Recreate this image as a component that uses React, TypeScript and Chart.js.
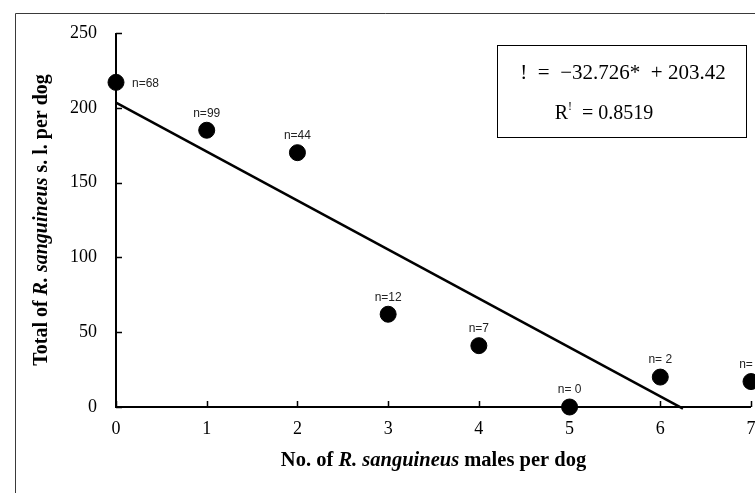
import React, { useEffect, useRef } from "react";
import { Chart, registerables } from "chart.js";

Chart.register(...registerables);

// ---- data ----
const malesPerDog: number[] = [0, 1, 2, 3, 4, 5, 6, 7];
const totalPerDog: number[] = [217, 185, 170, 62, 41, 0, 20, 17];
const sampleLabels: string[] = ["n=68", "n=99", "n=44", "n=12", "n=7", "n= 0", "n= 2", "n= 1"];
const yTicks: number[] = [0, 50, 100, 150, 200, 250];
const xTicks: number[] = [0, 1, 2, 3, 4, 5, 6, 7];
const slope = -32.726;
const intercept = 203.42;
const rSquared = 0.8519;
const fitXEnd = 6.25;
const equationText = "!  =  \u221232.726*  + 203.42";
const r2Text = "= " + rSquared.toFixed(4);
const xTitle = [
  { t: "No. of ", i: false },
  { t: "R. sanguineus", i: true },
  { t: " males per dog", i: false },
];
const yTitle = [
  { t: "Total of ", i: false },
  { t: "R. sanguineus", i: true },
  { t: " s. l. per dog", i: false },
];

const SERIF = "'Liberation Serif', 'Times New Roman', serif";
const SANS = "'Liberation Sans', Arial, sans-serif";

function drawSegments(ctx: CanvasRenderingContext2D, segs: { t: string; i: boolean }[], size: number) {
  const fonts = segs.map((s) => `${s.i ? "italic " : ""}bold ${size}px ${SERIF}`);
  let total = 0;
  const widths = segs.map((s, k) => {
    ctx.font = fonts[k];
    const w = ctx.measureText(s.t).width;
    total += w;
    return w;
  });
  let x = -total / 2;
  segs.forEach((s, k) => {
    ctx.font = fonts[k];
    ctx.fillText(s.t, x, 0);
    x += widths[k];
  });
}

const decorPlugin = {
  id: "decor",
  beforeDatasetsDraw(chart: any) {
    const { ctx, chartArea, scales } = chart;
    const xs = scales.x;
    const ys = scales.y;
    ctx.save();
    // outer frame
    ctx.strokeStyle = "#3a3a3a";
    ctx.lineWidth = 1;
    ctx.beginPath();
    ctx.moveTo(15.5, 600);
    ctx.lineTo(15.5, 13.5);
    ctx.lineTo(900, 13.5);
    ctx.stroke();
    // axes
    ctx.strokeStyle = "#000";
    ctx.lineWidth = 2;
    ctx.beginPath();
    ctx.moveTo(chartArea.left, chartArea.top);
    ctx.lineTo(chartArea.left, chartArea.bottom);
    ctx.lineTo(chartArea.right, chartArea.bottom);
    ctx.stroke();
    ctx.lineWidth = 1.5;
    ctx.beginPath();
    xTicks.forEach((v) => {
      const px = Math.round(xs.getPixelForValue(v)) + 0.5;
      ctx.moveTo(px, chartArea.bottom);
      ctx.lineTo(px, chartArea.bottom - 6);
    });
    yTicks.forEach((v) => {
      const py = Math.round(ys.getPixelForValue(v)) + 0.5;
      ctx.moveTo(chartArea.left, py);
      ctx.lineTo(chartArea.left + 6, py);
    });
    ctx.stroke();
    // x tick labels
    ctx.fillStyle = "#000";
    ctx.font = `18px ${SERIF}`;
    ctx.textAlign = "center";
    ctx.textBaseline = "top";
    xTicks.forEach((v) => {
      ctx.fillText(String(v), xs.getPixelForValue(v), chartArea.bottom + 13);
    });
    // axis titles
    ctx.textBaseline = "middle";
    ctx.textAlign = "left";
    ctx.save();
    ctx.translate((chartArea.left + chartArea.right) / 2, 461);
    drawSegments(ctx, xTitle, 20.5);
    ctx.restore();
    ctx.save();
    ctx.translate(42, (chartArea.top + chartArea.bottom) / 2);
    ctx.rotate(-Math.PI / 2);
    drawSegments(ctx, yTitle, 20);
    ctx.restore();
    ctx.restore();
  },
  afterDatasetsDraw(chart: any) {
    const { ctx, scales } = chart;
    const xs = scales.x;
    const ys = scales.y;
    ctx.save();
    ctx.fillStyle = "#222";
    ctx.font = `12px ${SANS}`;
    ctx.textBaseline = "middle";
    malesPerDog.forEach((xv, k) => {
      const px = xs.getPixelForValue(xv);
      const py = ys.getPixelForValue(totalPerDog[k]);
      if (k === 0) {
        ctx.textAlign = "left";
        ctx.fillText(sampleLabels[k], px + 16, py + 1);
      } else {
        ctx.textAlign = "center";
        ctx.fillText(sampleLabels[k], px, py - 17);
      }
    });
    // equation box
    ctx.fillStyle = "#fff";
    ctx.fillRect(497, 45, 249, 92);
    ctx.strokeStyle = "#000";
    ctx.lineWidth = 1;
    ctx.strokeRect(497.5, 45.5, 249, 92);
    ctx.fillStyle = "#000";
    ctx.font = `21px ${SERIF}`;
    ctx.textAlign = "center";
    ctx.textBaseline = "alphabetic";
    ctx.fillText(equationText, 623, 79);
    // R² line
    ctx.textAlign = "left";
    ctx.font = `20px ${SERIF}`;
    const wR = ctx.measureText("R").width;
    ctx.font = `12px ${SERIF}`;
    const wSup = ctx.measureText("!").width;
    ctx.font = `20px ${SERIF}`;
    const wRest = ctx.measureText("  " + r2Text).width;
    const start = 604 - (wR + wSup + wRest) / 2;
    ctx.fillText("R", start, 119);
    ctx.font = `12px ${SERIF}`;
    ctx.fillText("!", start + wR, 110);
    ctx.font = `20px ${SERIF}`;
    ctx.fillText("  " + r2Text, start + wR + wSup, 119);
    ctx.restore();
  },
};

export default function App() {
  const ref = useRef<HTMLCanvasElement | null>(null);
  useEffect(() => {
    if (!ref.current) return;
    const chart = new Chart(ref.current, {
      type: "scatter",
      data: {
        datasets: [
          {
            label: "points",
            data: malesPerDog.map((x, i) => ({ x, y: totalPerDog[i] })),
            backgroundColor: "#000",
            borderColor: "#000",
            pointRadius: 8,
            pointHoverRadius: 8,
            clip: false as any,
          },
          {
            label: "fit",
            type: "line" as any,
            data: [
              { x: 0, y: intercept },
              { x: fitXEnd, y: slope * fitXEnd + intercept },
            ],
            borderColor: "#000",
            borderWidth: 2.5,
            pointRadius: 0,
            showLine: true,
            fill: false,
            clip: false as any,
          },
        ],
      },
      options: {
        responsive: false,
        animation: false,
        devicePixelRatio: 1,
        layout: { autoPadding: false, padding: { left: 0, right: 4, top: 33, bottom: 0 } },
        plugins: { legend: { display: false }, tooltip: { enabled: false }, title: { display: false } },
        scales: {
          x: {
            type: "linear",
            min: 0,
            max: 7,
            grid: { display: false, drawTicks: false },
            border: { display: false },
            afterFit: (s: any) => {
              s.height = 86;
              s.paddingLeft = 0;
              s.paddingRight = 0;
            },
            afterBuildTicks: (s: any) => {
              s.ticks = xTicks.map((v) => ({ value: v }));
            },
            ticks: { display: false },
          },
          y: {
            type: "linear",
            min: 0,
            max: 250,
            grid: { display: false, drawTicks: false },
            border: { display: false },
            afterFit: (s: any) => {
              s.width = 116;
              s.paddingTop = 0;
              s.paddingBottom = 0;
            },
            afterBuildTicks: (s: any) => {
              s.ticks = yTicks.map((v) => ({ value: v }));
            },
            ticks: {
              padding: 19,
              color: "#000",
              font: { family: SERIF, size: 18 },
            },
          },
        },
      },
      plugins: [decorPlugin],
    });
    return () => chart.destroy();
  }, []);
  return (
    <div style={{ position: "absolute", left: 0, top: 0, width: 755, height: 493, background: "#fff", overflow: "hidden" }}>
      <canvas ref={ref} width={755} height={493} style={{ display: "block" }} />
    </div>
  );
}
